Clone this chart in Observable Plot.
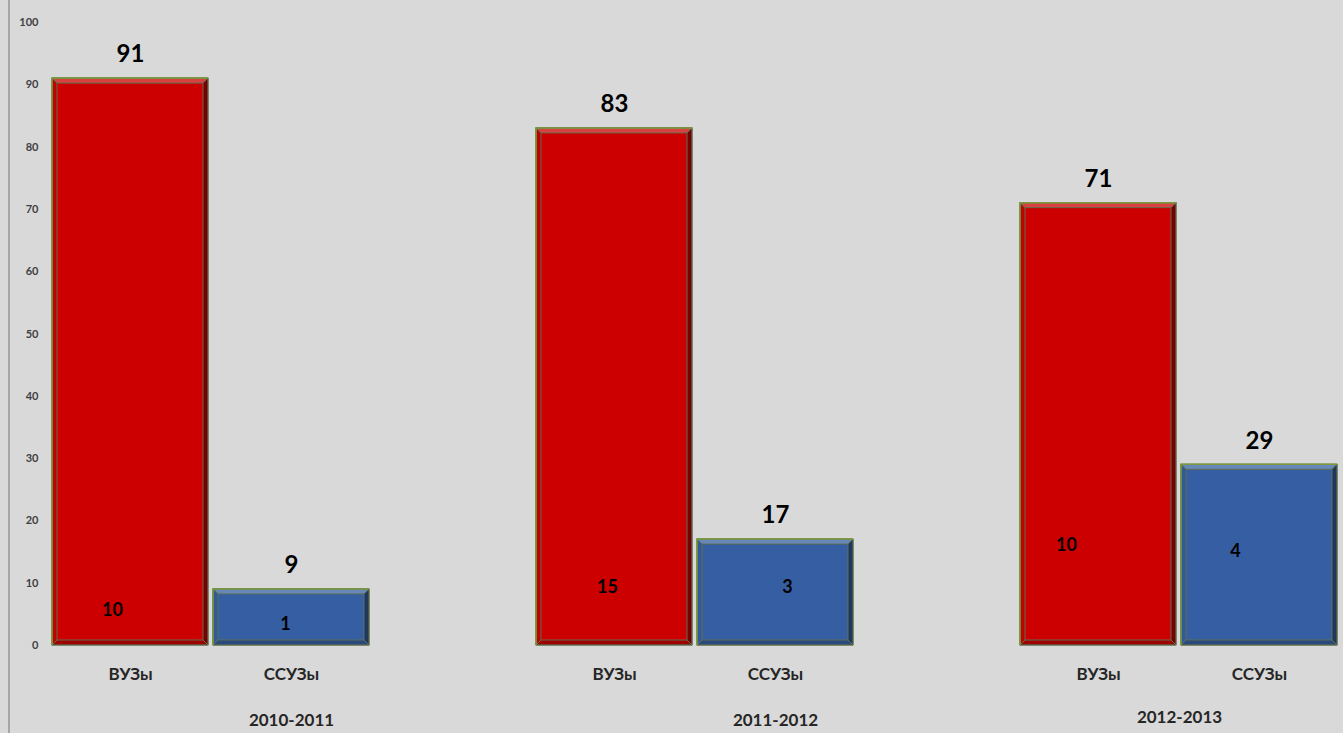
<!DOCTYPE html>
<html>
<head>
<meta charset="utf-8">
<script src="https://cdn.jsdelivr.net/npm/d3@7"></script>
<script src="https://cdn.jsdelivr.net/npm/@observablehq/plot@0.6"></script>
<style>
  html, body { margin: 0; padding: 0; background: #d9d9d9; }
  #wrap { position: relative; width: 1343px; height: 733px; overflow: hidden; }
  #edge { position: absolute; left: 8px; top: 0; width: 2px; height: 733px; background: #a6a6a6; }
</style>
</head>
<body>
<div id="wrap"><div id="edge"></div></div>
<script>
// ---- data ----
const years = ["2010-2011", "2011-2012", "2012-2013"];
const types = ["ВУЗы", "ССУЗы"];
const vuzTotals = [91, 83, 71];
const ssuzTotals = [9, 17, 29];
const vuzInner = [10, 15, 10];
const ssuzInner = [1, 3, 4];
const yTicks = [0, 10, 20, 30, 40, 50, 60, 70, 80, 90, 100];

// label anchors (as drawn in the original)
const vuzInnerAt = [5.6, 9.3, 16.1];
const ssuzInnerAt = [3.4, 9.3, 15.1];
const vuzInnerDx = [-18, -7, -32];
const ssuzInnerDx = [-6, 12, -24];
const yearLabelUnder = ["ССУЗы", "ССУЗы", null];

const colors = {"ВУЗы": "#cc0000", "ССУЗы": "#355ea3"};

const bars = [];
years.forEach((yr, i) => {
  bars.push({year: yr, type: types[0], value: vuzTotals[i], inner: vuzInner[i], at: vuzInnerAt[i], dx: vuzInnerDx[i]});
  bars.push({year: yr, type: types[1], value: ssuzTotals[i], inner: ssuzInner[i], at: ssuzInnerAt[i], dx: ssuzInnerDx[i]});
});

const innerMarks = bars.map(d => Plot.text([d], {
  fx: "year", x: "type", y: "at", text: "inner", dx: d.dx,
  fontSize: 18, fontWeight: "bold", fill: "#000"
}));

const yearMarks = years.map((yr, i) => yearLabelUnder[i]
  ? Plot.text([yr], {fx: d => d, x: () => yearLabelUnder[i], y: () => 0, text: d => d, dy: 75, fontSize: 17, fontWeight: "bold", fill: "#262626"})
  : Plot.text([yr], {fx: d => d, frameAnchor: "bottom", text: d => d, dy: 77, fontSize: 17, fontWeight: "bold", fill: "#262626"})
);

const chart = Plot.plot({
  width: 1343,
  height: 733,
  marginLeft: 52,
  marginRight: 5,
  marginTop: 22,
  marginBottom: 88,
  style: {background: "transparent", fontFamily: "Lato, 'Open Sans', sans-serif", overflow: "visible"},
  fx: {domain: years, paddingInner: 0.344, paddingOuter: 0, axis: null},
  x: {domain: types, paddingInner: 0.03, paddingOuter: 0, axis: null},
  y: {domain: [0, 100], axis: null},
  marks: [
    Plot.axisY({ticks: yTicks, tickSize: 0, tickPadding: 14, fontSize: 11, fontWeight: "bold", fill: "#404040", label: null}),
    Plot.axisX({tickSize: 0, tickPadding: 22, fontSize: 17, fontWeight: "bold", fill: "#262626", label: null}),
    Plot.barY(bars, {fx: "year", x: "type", y: "value", fill: d => colors[d.type], stroke: "#5f6f50", strokeWidth: 1}),
    Plot.text(bars, {fx: "year", x: "type", y: "value", text: "value", dy: -24, fontSize: 24, fontWeight: "bold", fill: "#000"}),
    ...innerMarks,
    ...yearMarks
  ]
});

document.getElementById("wrap").appendChild(chart);

// bevel effect on the bars, derived from the rendered rects
d3.select(chart).selectAll('g[aria-label="bar"] rect').each(function() {
  const r = d3.select(this);
  const x = +r.attr("x"), y = +r.attr("y"), w = +r.attr("width"), h = +r.attr("height");
  const b = Math.min(5, h / 3, w / 3);
  const g = d3.select(this.parentNode);
  const poly = (pts, fill, op) => g.append("polygon")
    .attr("points", pts.map(p => p.join(",")).join(" "))
    .attr("fill", fill).attr("fill-opacity", op);
  poly([[x, y], [x + w, y], [x + w - b, y + b], [x + b, y + b]], "#fff", 0.25);
  poly([[x + w, y], [x + w, y + h], [x + w - b, y + h - b], [x + w - b, y + b]], "#000", 0.4);
  poly([[x, y + h], [x + w, y + h], [x + w - b, y + h - b], [x + b, y + h - b]], "#000", 0.22);
  poly([[x, y], [x + b, y + b], [x + b, y + h - b], [x, y + h]], "#000", 0.05);
  // thin green edge on top and left
  g.append("path").attr("d", `M${x},${y + h}V${y}H${x + w}`)
    .attr("fill", "none").attr("stroke", "#7a9a3c").attr("stroke-width", 1.5);
});
</script>
</body>
</html>
